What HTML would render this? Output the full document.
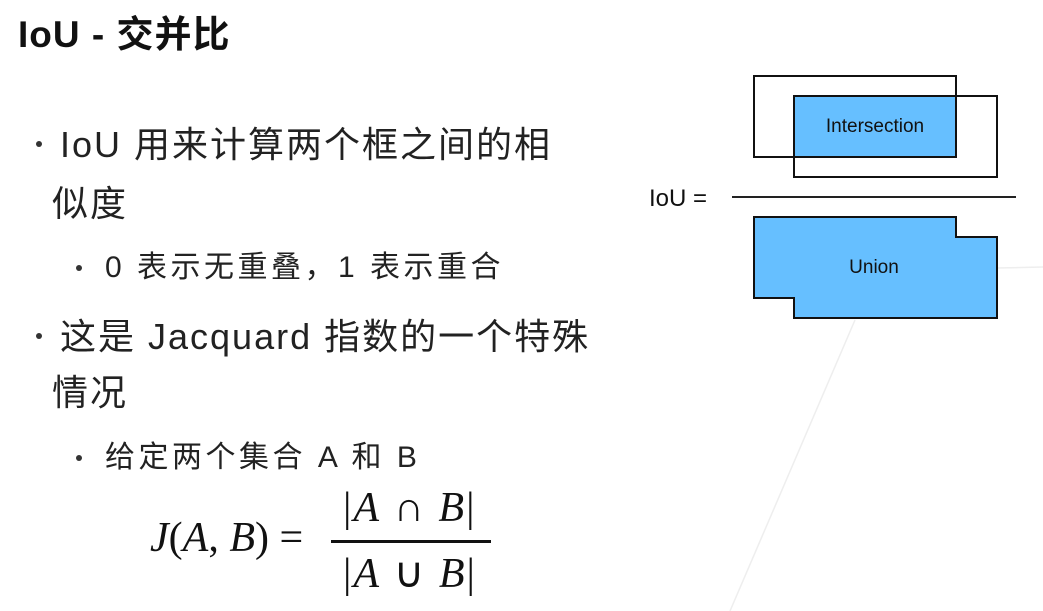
<!DOCTYPE html>
<html><head><meta charset="utf-8"><style>
body{margin:0;width:1043px;height:611px;background:#fff;position:relative;overflow:hidden;font-family:"Liberation Sans","Noto Sans CJK SC",sans-serif;color:#222}
.t{position:absolute;white-space:nowrap}
.b{font-size:36px;letter-spacing:2px}
.s{font-size:30px;letter-spacing:3.5px}
.m{font-family:"Liberation Serif",serif;font-size:42px;color:#111}
.d{position:absolute;width:6px;height:6px;border-radius:3px;background:#333}
</style></head><body>
<div class="t" style="left:18px;top:4px;font-size:37px;font-weight:bold;color:#111;letter-spacing:1px">IoU - 交并比</div>
<div class="d" style="left:36px;top:141px"></div>
<div class="t b" style="left:60px;top:116px">IoU 用来计算两个框之间的相</div>
<div class="t b" style="left:52px;top:175px">似度</div>
<div class="d" style="left:76px;top:265px"></div>
<div class="t s" style="left:105px;top:242px">0 表示无重叠，1 表示重合</div>
<div class="d" style="left:36px;top:333px"></div>
<div class="t b" style="left:60px;top:308px">这是 Jacquard 指数的一个特殊</div>
<div class="t b" style="left:52px;top:364px">情况</div>
<div class="d" style="left:76px;top:455px"></div>
<div class="t s" style="left:105px;top:432px">给定两个集合 A 和 B</div>
<div class="t m" style="left:150px;top:514px"><i>J</i>(<i>A</i>, <i>B</i>) =</div>
<div class="t m" style="left:343px;top:484px;letter-spacing:2px">|<i>A</i> ∩ <i>B</i>|</div>
<div style="position:absolute;left:331px;top:540px;width:160px;height:3px;background:#111"></div>
<div class="t m" style="left:343px;top:548px;letter-spacing:2px">|<i>A</i> ∪ <i>B</i>|</div>
<svg width="1043" height="611" style="position:absolute;left:0;top:0">
<line x1="855" y1="320" x2="730" y2="611" stroke="#eee" stroke-width="1.5"/>
<line x1="997" y1="268" x2="1043" y2="267" stroke="#eee" stroke-width="1.5"/>
<rect x="794" y="96" width="162" height="61" fill="#66bfff"/>
<rect x="754" y="76" width="202" height="81" fill="none" stroke="#111" stroke-width="2"/>
<rect x="794" y="96" width="203" height="81" fill="none" stroke="#111" stroke-width="2"/>
<text x="875" y="132" font-family="Liberation Sans" font-size="19" text-anchor="middle" fill="#111">Intersection</text>
<line x1="732" y1="197" x2="1016" y2="197" stroke="#222" stroke-width="2"/>
<text x="649" y="206" font-family="Liberation Sans" font-size="24" fill="#111">IoU =</text>
<polygon points="754,217 956,217 956,237 997,237 997,318 794,318 794,298 754,298" fill="#66bfff" stroke="#111" stroke-width="2"/>
<text x="874" y="273" font-family="Liberation Sans" font-size="19" text-anchor="middle" fill="#111">Union</text>
</svg>
</body></html>
